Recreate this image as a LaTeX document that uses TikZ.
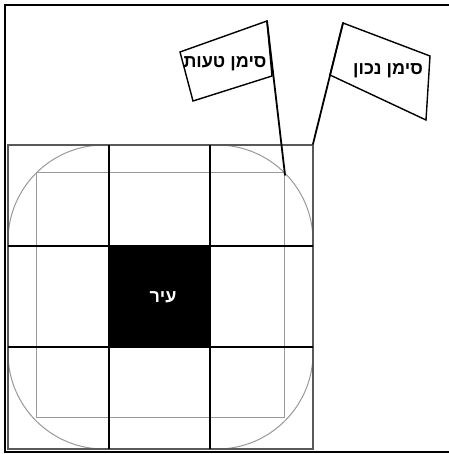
\documentclass[tikz,border=0pt]{standalone}
\usepackage{fontspec}
\setmainfont{Liberation Sans}
\newfontfamily\hebfont[Script=Hebrew]{Liberation Sans}
\TeXXeTstate=1
\begin{document}
\begin{tikzpicture}[x=1pt,y=-1pt,
  frameline/.style={line width=2.6pt,black},
  gridline/.style={line width=2pt,black},
  outerbox/.style={line width=1.4pt,black!65},
  lightline/.style={line width=1pt,black!40},
  flagbox/.style={line width=1.4pt,black,fill=white},
  flagpole/.style={line width=1.8pt,black,line cap=round},
  flagtext/.style={font=\hebfont\bfseries\fontsize{18}{18}\selectfont,inner sep=0pt},
  citytext/.style={font=\hebfont\bfseries\fontsize{18}{18}\selectfont,text=white,inner sep=0pt}]
\useasboundingbox (0,0) rectangle (448,454);
\fill[white] (0,0) rectangle (448,454);
% outer frame
\draw[frameline] (450,5) -- (5,5) -- (5,452) -- (450,452);
% city square
\fill[black] (109,246) rectangle (210,347);
% light grey rounded shape and inner rectangle
\draw[lightline,rounded corners=96pt] (8,145) rectangle (313,449);
\draw[lightline] (36,173) rectangle (284,417);
% outer grid rectangle
\draw[outerbox] (8,145) rectangle (313,449);
% black grid lines
\draw[gridline] (109,145) -- (109,449);
\draw[gridline] (210,145) -- (210,449);
\draw[gridline] (8,246) -- (313,246);
\draw[gridline] (8,347) -- (313,347);
\node[citytext] (city) at (163,297) {\beginR עיר\endR};
% flag 1 (wrong sign)
\coordinate (f1top) at (267,21);
\coordinate (f1base) at (285,175);
\draw[flagbox] (f1top) -- (180,52) -- (193,101) -- (272,76) -- cycle;
\draw[flagpole] (f1top) -- (f1base);
\node[flagtext] (f1) at (225,64) {\beginR סימן טעות\endR};
% flag 2 (correct sign)
\coordinate (f2top) at (343,23);
\coordinate (f2base) at (313,144);
\draw[flagbox] (f2top) -- (430,56) -- (426,120) -- (330,75) -- cycle;
\draw[flagpole] (f2top) -- (f2base);
\node[flagtext] (f2) at (388,71) {\beginR סימן נכון\endR};
\end{tikzpicture}
\end{document}
